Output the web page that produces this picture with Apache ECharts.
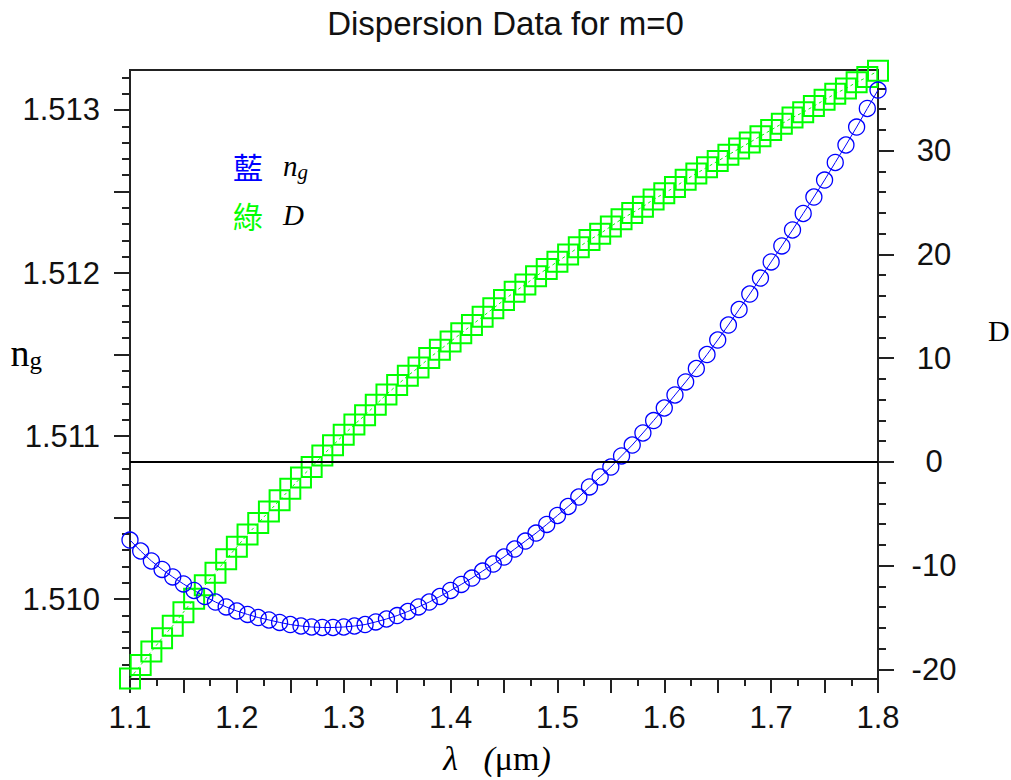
<!DOCTYPE html>
<html><head><meta charset="utf-8">
<script src="https://cdn.jsdelivr.net/npm/echarts@6/dist/echarts.min.js"></script>
<style>html,body{margin:0;padding:0;background:#fff}#c{width:1011px;height:780px}</style>
</head><body><div id="c"></div>
<script>
const lambda = [1.10,1.11,1.12,1.13,1.14,1.15,1.16,1.17,1.18,1.19,1.20,1.21,1.22,1.23,1.24,1.25,1.26,1.27,1.28,1.29,1.30,1.31,1.32,1.33,1.34,1.35,1.36,1.37,1.38,1.39,1.40,1.41,1.42,1.43,1.44,1.45,1.46,1.47,1.48,1.49,1.50,1.51,1.52,1.53,1.54,1.55,1.56,1.57,1.58,1.59,1.60,1.61,1.62,1.63,1.64,1.65,1.66,1.67,1.68,1.69,1.70,1.71,1.72,1.73,1.74,1.75,1.76,1.77,1.78,1.79,1.80];
const ngValues = [
1.510362,1.510295,1.510234,1.510182,1.510136,1.510093,1.510053,1.510016,1.509982,1.509952,
1.509927,1.509906,1.509887,1.509872,1.509857,1.509844,1.509835,1.509829,1.509826,1.509826,
1.509829,1.509835,1.509844,1.509860,1.509878,1.509899,1.509924,1.509952,1.509982,1.510016,
1.510053,1.510090,1.510129,1.510172,1.510215,1.510258,1.510307,1.510356,1.510405,1.510458,
1.510513,1.510568,1.510626,1.510688,1.510749,1.510810,1.510878,1.510945,1.511019,1.511095,
1.511172,1.511252,1.511332,1.511414,1.511500,1.511589,1.511681,1.511776,1.511871,1.511969,
1.512068,1.512166,1.512264,1.512365,1.512466,1.512570,1.512678,1.512785,1.512895,1.513009,
1.513122];
const dValues = [
-20.9,-19.6,-18.3,-17.0,-15.8,-14.5,-13.2,-11.9,-10.7,-9.4,
-8.2,-7.0,-5.9,-4.8,-3.7,-2.6,-1.5,-0.5,0.6,1.6,
2.6,3.6,4.5,5.5,6.5,7.4,8.3,9.1,10.0,10.8,
11.6,12.4,13.2,14.0,14.8,15.6,16.4,17.1,17.9,18.6,
19.3,20.0,20.7,21.4,22.0,22.7,23.4,24.0,24.6,25.3,
25.9,26.5,27.2,27.8,28.4,29.0,29.6,30.2,30.8,31.4,
32.0,32.6,33.2,33.7,34.3,34.9,35.5,36.0,36.6,37.1,
37.7];
const xTickLabels = [1.1,1.2,1.3,1.4,1.5,1.6,1.7,1.8];
const ngTickLabels = [1.510,1.511,1.512,1.513];
const ngMajorTicks = [1.510,1.5105,1.511,1.5115,1.512,1.5125,1.513];
const dTickLabels = [-20,-10,0,10,20,30];
const dZero = [0];

const AX = '#222';
const sans = 'Liberation Sans, Arial, sans-serif';
const serif = 'Liberation Serif, Times New Roman, serif';
const chart = echarts.init(document.getElementById('c'), null, {renderer:'svg'});
chart.setOption({
  animation: false,
  backgroundColor: '#fff',
  title: {text:'Dispersion Data for m=0', left:'center', top:2,
    textStyle:{fontSize:33, fontWeight:'normal', fontFamily:sans, color:'#111'}},
  legend: {show:true, orient:'vertical', left:228, top:151, padding:0, itemGap:18, icon:'none',
    itemWidth:0, itemHeight:0, selectedMode:false, data:['ng','D'],
    formatter: n => n === 'ng' ? '{cb|藍}{it|n}{sub|g}' : '{cg|綠}{it|D}',
    textStyle:{rich:{
      cb:{color:'#0000ff', fontFamily:'Noto Sans CJK TC', fontSize:30, lineHeight:32},
      cg:{color:'#00ff00', fontFamily:'Noto Sans CJK TC', fontSize:30, lineHeight:32},
      it:{color:'#000', fontFamily:serif, fontStyle:'italic', fontSize:29, lineHeight:32, padding:[0,0,0,20]},
      sub:{color:'#000', fontFamily:serif, fontStyle:'italic', fontSize:21, lineHeight:16, verticalAlign:'bottom'}
    }}},
  grid: {left:130, right:133, top:70, bottom:101, show:true, borderColor:AX, borderWidth:2,
    containLabel:false, outerBoundsMode:'none'},
  xAxis: {type:'value', min:1.1, max:1.8, interval:0.05,
    axisLine:{show:true, onZero:false, lineStyle:{color:AX, width:2}},
    axisTick:{show:true, length:14, lineStyle:{color:AX, width:2}},
    minorTick:{show:true, splitNumber:2, length:7, lineStyle:{color:AX, width:2}},
    splitLine:{show:false}, minorSplitLine:{show:false},
    axisLabel:{customValues:xTickLabels, formatter:v=>v.toFixed(1), fontSize:31, fontFamily:sans, color:'#111', margin:23},
    name:'{l|λ}{p|   (}{u|μm}{p|)}', nameLocation:'middle', nameGap:62, nameMoveOverlap:false,
    nameTextStyle:{padding:[0,14,0,0], rich:{
      l:{fontFamily:serif, fontStyle:'italic', fontSize:34, color:'#000'},
      p:{fontFamily:serif, fontStyle:'italic', fontSize:34, color:'#000'},
      u:{fontFamily:serif, fontSize:34, color:'#000'}}}
  },
  yAxis: [
    {type:'value', position:'left', min:1.50951, max:1.513245, minInterval:0.0005, maxInterval:0.0005,
     axisLine:{show:true, lineStyle:{color:AX, width:2}},
     axisTick:{show:true, customValues:ngMajorTicks, length:16, lineStyle:{color:AX, width:2}},
     minorTick:{show:true, splitNumber:5, length:8, lineStyle:{color:AX, width:2}},
     splitLine:{show:false}, minorSplitLine:{show:false},
     axisLabel:{customValues:ngTickLabels, formatter:v=>v.toFixed(3), fontSize:31, fontFamily:sans, color:'#111', margin:30},
     name:'{n|n}{g|g}', nameLocation:'middle', nameRotate:0, nameGap:88, nameMoveOverlap:false,
     nameTextStyle:{padding:[0,0,44,0], rich:{
       n:{fontFamily:serif, fontSize:38, color:'#000', lineHeight:40},
       g:{fontFamily:serif, fontSize:25, color:'#000', lineHeight:22, verticalAlign:'bottom'}}}
    },
    {type:'value', position:'right', min:-20.94, max:37.78, minInterval:10, maxInterval:10,
     axisLine:{show:true, lineStyle:{color:AX, width:2}},
     axisTick:{show:true, customValues:dTickLabels, length:16, lineStyle:{color:AX, width:2}},
     minorTick:{show:true, splitNumber:5, length:8, lineStyle:{color:AX, width:2}},
     splitLine:{show:false}, minorSplitLine:{show:false},
     axisLabel:{customValues:dTickLabels, fontSize:31, fontFamily:sans, color:'#111', margin:56, align:'center'},
     name:'{d|D}', nameLocation:'middle', nameRotate:0, nameGap:110, nameMoveOverlap:false,
     nameTextStyle:{rich:{d:{fontFamily:serif, fontSize:30, color:'#000', padding:[0,0,88,0]}}}
    }
  ],
  series: [
    {name:'D', type:'line', yAxisIndex:1, data:lambda.map((x,i)=>[x,dValues[i]]),
     symbol:'rect', symbolSize:20, showAllSymbol:true, clip:false,
     itemStyle:{color:'rgba(0,0,0,0)', borderColor:'#00ff00', borderWidth:2},
     lineStyle:{color:'#00ff00', width:1, type:[3,3]},
     markLine:{silent:true, symbol:['none','none'], label:{show:false},
       lineStyle:{color:'#000', width:2, type:'solid'}, data:dZero.map(v=>({yAxis:v}))}},
    {name:'ng', type:'line', yAxisIndex:0, data:lambda.map((x,i)=>[x,ngValues[i]]),
     symbol:'circle', symbolSize:16, showAllSymbol:true, clip:false,
     itemStyle:{color:'rgba(0,0,0,0)', borderColor:'#0000ff', borderWidth:1.3},
     lineStyle:{color:'#0000ff', width:1}}
  ]
});
</script>
</body></html>
